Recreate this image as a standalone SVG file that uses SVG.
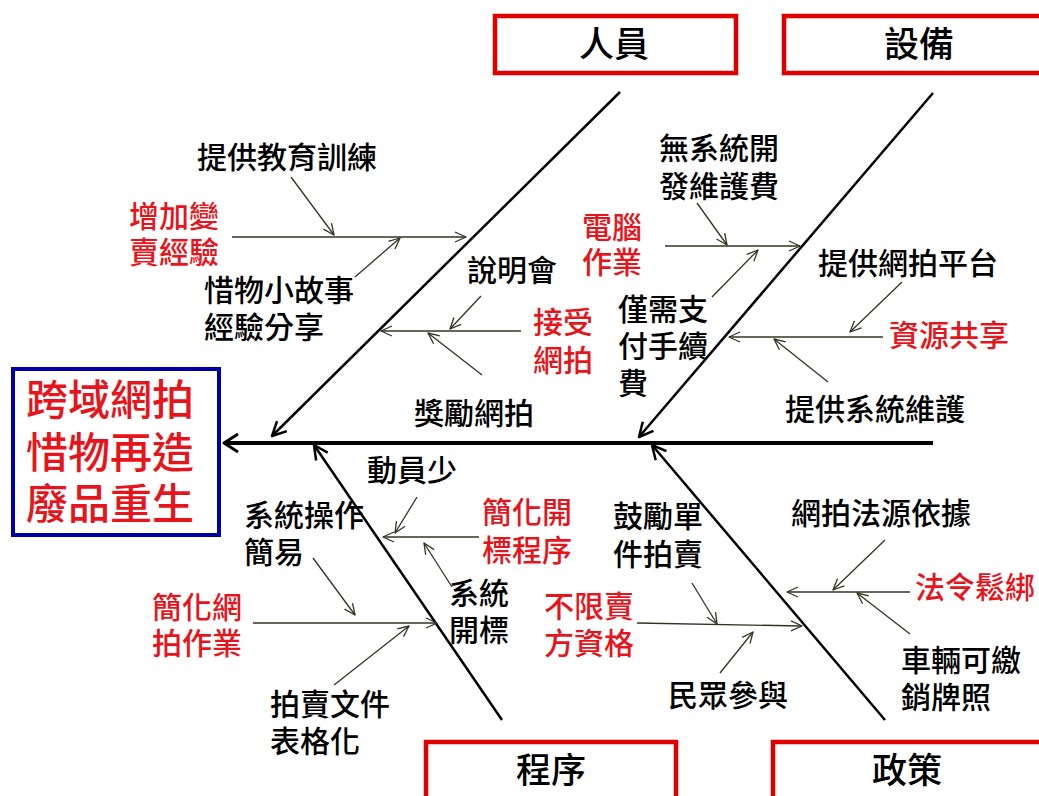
<svg xmlns="http://www.w3.org/2000/svg" width="1039" height="796" viewBox="0 0 1039 796">
<style>
text{font-family:"Noto Sans CJK TC","Noto Sans CJK SC",sans-serif;font-weight:500;}
.lb{font-size:30px;fill:#000;}
.rd{font-size:30px;fill:#e8141b;}
.cat{font-size:35px;fill:#000;text-anchor:middle;}
.head{font-size:42px;fill:#e8141b;text-anchor:middle;}
.cbox{fill:#fff;stroke:#e00000;stroke-width:4.5;}
.hbox{fill:#fff;stroke:#0000a8;stroke-width:4;}
.sub{stroke:#333322;stroke-width:1.3;fill:none;marker-end:url(#ms);}
.bone{stroke:#000;stroke-width:2.5;fill:none;marker-end:url(#mb);}
.spine{stroke:#000;stroke-width:4;fill:none;marker-end:url(#mp);}
</style>
<defs>
<marker id="ms" markerUnits="userSpaceOnUse" viewBox="-15 -10 20 20" markerWidth="20" markerHeight="20" refX="0" refY="0" orient="auto" overflow="visible">
<path d="M-11,-5 L0,0 L-11,5" fill="none" stroke="#333322" stroke-width="1.3" stroke-linejoin="round"/>
</marker>
<marker id="mb" markerUnits="userSpaceOnUse" viewBox="-15 -10 20 20" markerWidth="20" markerHeight="20" refX="0" refY="0" orient="auto" overflow="visible">
<path d="M-14,-7 L0,0 L-14,7" fill="none" stroke="#000" stroke-width="2.5" stroke-linejoin="round"/>
</marker>
<marker id="mp" markerUnits="userSpaceOnUse" viewBox="-15 -10 20 20" markerWidth="20" markerHeight="20" refX="0" refY="0" orient="auto" overflow="visible">
<path d="M-14,-9 L0,0 L-14,9" fill="none" stroke="#000" stroke-width="3" stroke-linejoin="round"/>
</marker>
</defs>
<rect width="1039" height="796" fill="#fff"/>

<g id="connectors">
<line class="spine" x1="933" y1="443" x2="224" y2="443"/>
<line class="bone" x1="620" y1="92" x2="272" y2="436"/>
<line class="bone" x1="933" y1="93" x2="639" y2="437"/>
<line class="bone" x1="502" y1="720" x2="314" y2="445"/>
<line class="bone" x1="885" y1="720" x2="652" y2="445"/>
<line class="sub" x1="291" y1="177" x2="334" y2="235"/>
<line class="sub" x1="232" y1="237" x2="466" y2="237"/>
<line class="sub" x1="355" y1="277" x2="400" y2="238"/>
<line class="sub" x1="481" y1="296" x2="450" y2="329"/>
<line class="sub" x1="521" y1="331" x2="381" y2="331"/>
<line class="sub" x1="482" y1="375" x2="428" y2="333"/>
<line class="sub" x1="697" y1="203" x2="727" y2="245"/>
<line class="sub" x1="665" y1="246" x2="800" y2="246"/>
<line class="sub" x1="712" y1="297" x2="758" y2="250"/>
<line class="sub" x1="902" y1="282" x2="850" y2="332"/>
<line class="sub" x1="883" y1="337" x2="729" y2="337"/>
<line class="sub" x1="828" y1="382" x2="774" y2="339"/>
<line class="sub" x1="417" y1="497" x2="395" y2="533"/>
<line class="sub" x1="479" y1="537" x2="383" y2="537"/>
<line class="sub" x1="452" y1="587" x2="424" y2="543"/>
<line class="sub" x1="313" y1="558" x2="355" y2="615"/>
<line class="sub" x1="253" y1="623" x2="437" y2="623"/>
<line class="sub" x1="334" y1="685" x2="409" y2="626"/>
<line class="sub" x1="692" y1="583" x2="717" y2="624"/>
<line class="sub" x1="637" y1="623" x2="802" y2="626"/>
<line class="sub" x1="720" y1="673" x2="753" y2="632"/>
<line class="sub" x1="885" y1="540" x2="833" y2="590"/>
<line class="sub" x1="910" y1="592" x2="787" y2="592"/>
<line class="sub" x1="910" y1="634" x2="857" y2="593"/>
</g>

<g id="head">
<rect class="hbox" x="13" y="369" width="206" height="166"/>
<text class="head" x="110" y="415">跨域網拍<tspan x="110" dy="53">惜物再造</tspan><tspan x="110" dy="51">廢品重生</tspan></text>
</g>

<g id="cat-people">
<rect class="cbox" x="495" y="16" width="241" height="57"/>
<text class="cat" x="614" y="57">人員</text>
</g>
<g id="cat-equipment">
<rect class="cbox" x="784" y="16" width="300" height="57"/>
<text class="cat" x="919" y="57">設備</text>
</g>
<g id="cat-procedure">
<rect class="cbox" x="426" y="742" width="250" height="80"/>
<text class="cat" x="551" y="783">程序</text>
</g>
<g id="cat-policy">
<rect class="cbox" x="773" y="742" width="300" height="80"/>
<text class="cat" x="907" y="783">政策</text>
</g>

<g id="n-training"><text class="lb" x="197" y="168">提供教育訓練</text></g>
<g id="n-experience"><text class="rd" x="129" y="227">增加變<tspan x="129" dy="36">賣經驗</tspan></text></g>
<g id="n-story"><text class="lb" x="204" y="301">惜物小故事<tspan x="204" dy="37">經驗分享</tspan></text></g>
<g id="n-briefing"><text class="lb" x="467" y="281">說明會</text></g>
<g id="n-accept"><text class="rd" x="533" y="333">接受<tspan x="533" dy="38">網拍</tspan></text></g>
<g id="n-reward"><text class="lb" x="414" y="424">獎勵網拍</text></g>

<g id="n-nocost"><text class="lb" x="659" y="159">無系統開<tspan x="659" dy="38">發維護費</tspan></text></g>
<g id="n-computer"><text class="rd" x="582" y="238">電腦<tspan x="582" dy="35">作業</tspan></text></g>
<g id="n-fee"><text class="lb" x="618" y="320">僅需支<tspan x="618" dy="37">付手續</tspan><tspan x="618" dy="37">費</tspan></text></g>
<g id="n-platform"><text class="lb" x="818" y="274">提供網拍平台</text></g>
<g id="n-share"><text class="rd" x="889" y="346">資源共享</text></g>
<g id="n-maintain"><text class="lb" x="785" y="420">提供系統維護</text></g>

<g id="n-mobilize"><text class="lb" x="367" y="481">動員少</text></g>
<g id="n-simplify-bid"><text class="rd" x="482" y="523">簡化開<tspan x="482" dy="38">標程序</tspan></text></g>
<g id="n-sysbid"><text class="lb" x="449" y="604">系統<tspan x="449" dy="37">開標</tspan></text></g>
<g id="n-easy"><text class="lb" x="244" y="526">系統操作<tspan x="244" dy="37">簡易</tspan></text></g>
<g id="n-simplify-web"><text class="rd" x="152" y="618">簡化網<tspan x="152" dy="36">拍作業</tspan></text></g>
<g id="n-forms"><text class="lb" x="270" y="715">拍賣文件<tspan x="270" dy="37">表格化</tspan></text></g>

<g id="n-single"><text class="lb" x="613" y="527">鼓勵單<tspan x="613" dy="38">件拍賣</tspan></text></g>
<g id="n-seller"><text class="rd" x="544" y="617">不限賣<tspan x="544" dy="37">方資格</tspan></text></g>
<g id="n-public"><text class="lb" x="668" y="706">民眾參與</text></g>
<g id="n-law"><text class="lb" x="791" y="524">網拍法源依據</text></g>
<g id="n-deregulate"><text class="rd" x="915" y="598">法令鬆綁</text></g>
<g id="n-vehicle"><text class="lb" x="901" y="671">車輛可繳<tspan x="901" dy="37">銷牌照</tspan></text></g>
</svg>
